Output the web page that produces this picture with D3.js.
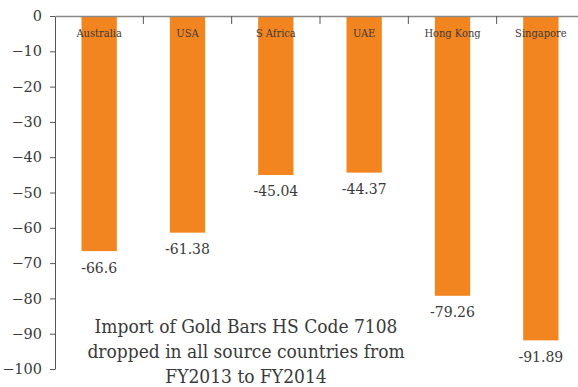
<!DOCTYPE html>
<html>
<head>
<meta charset="utf-8">
<script src="https://cdn.jsdelivr.net/npm/d3@7"></script>
<style>
  html, body { margin: 0; padding: 0; background: #fff; }
  svg { display: block; }
</style>
</head>
<body>
<svg id="chart" width="578" height="387"></svg>
<script>
const categories = ["Australia", "USA", "S Africa", "UAE", "Hong Kong", "Singapore"];
const values = [-66.6, -61.38, -45.04, -44.37, -79.26, -91.89];
const valueLabels = ["-66.6", "-61.38", "-45.04", "-44.37", "-79.26", "-91.89"];
const yTicks = [0, -10, -20, -30, -40, -50, -60, -70, -80, -90, -100];
const titleLines = ["Import of Gold Bars HS Code 7108", "dropped in all source countries from", "FY2013 to FY2014"];

const svg = d3.select("#chart");
const serif = "'DejaVu Serif', serif";
const condensed = "'DejaVu Serif Condensed', 'DejaVu Serif', serif";
const textColor = "#3a3a3a";

const x = d3.scaleBand().domain(categories).range([55, 585]).padding(0);
const y = d3.scaleLinear().domain([-100, 0]).range([369, 16]);
const barW = x.bandwidth() * 0.4;

// bars
svg.append("g").selectAll("rect").data(categories).join("rect")
  .attr("x", (d) => x(d) + (x.bandwidth() - barW) / 2)
  .attr("y", y(0))
  .attr("width", barW)
  .attr("height", (d, i) => y(values[i]) - y(0))
  .attr("fill", "#F38520");

// y axis
const yAxis = svg.append("g").attr("transform", "translate(55,0)")
  .call(d3.axisLeft(y).tickValues(yTicks).tickSize(5).tickSizeOuter(0).tickPadding(8).tickFormat(d3.format("d")));
yAxis.select(".domain").attr("stroke", "#555");
yAxis.selectAll(".tick line").attr("stroke", "#555");
yAxis.selectAll(".tick text").attr("font-family", serif).attr("font-size", 14.5).attr("fill", textColor);

// zero line with band-boundary ticks
const xAxis = svg.append("g").attr("transform", `translate(0,${y(0)})`)
  .call(d3.axisBottom(x).tickSize(0).tickFormat(""));
xAxis.select(".domain").attr("stroke", "#888").attr("stroke-width", 1.5);
const boundaries = categories.slice(1).map((c) => x(c));
svg.append("g").selectAll("line").data(boundaries).join("line")
  .attr("x1", (d) => d).attr("x2", (d) => d)
  .attr("y1", y(0)).attr("y2", y(0) + 8)
  .attr("stroke", "#555");

// category labels
svg.append("g").selectAll("text").data(categories).join("text")
  .attr("x", (d) => x(d) + x.bandwidth() / 2)
  .attr("y", 37)
  .attr("text-anchor", "middle")
  .attr("font-family", condensed)
  .attr("font-size", 11)
  .attr("fill", textColor)
  .text((d) => d);

// value labels
svg.append("g").selectAll("text").data(categories).join("text")
  .attr("x", (d) => x(d) + x.bandwidth() / 2)
  .attr("y", (d, i) => y(values[i]) + 21.5)
  .attr("text-anchor", "middle")
  .attr("font-family", serif)
  .attr("font-size", 14)
  .attr("fill", textColor)
  .text((d, i) => valueLabels[i]);

// title
svg.append("g").selectAll("text").data(titleLines).join("text")
  .attr("x", 246)
  .attr("y", (d, i) => 333 + i * 25)
  .attr("text-anchor", "middle")
  .attr("font-family", condensed)
  .attr("font-size", 19)
  .attr("fill", textColor)
  .text((d) => d);
</script>
</body>
</html>
